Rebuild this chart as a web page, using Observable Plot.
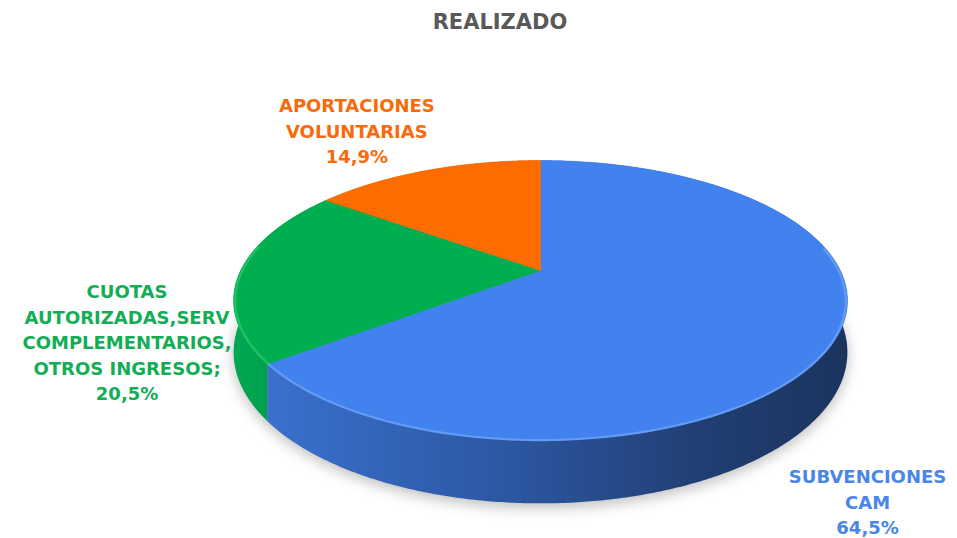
<!DOCTYPE html>
<html><head><meta charset="utf-8">
<script src="https://cdn.jsdelivr.net/npm/d3@7"></script>
<script src="https://cdn.jsdelivr.net/npm/@observablehq/plot@0.6"></script>
<style>body{margin:0;background:#fff} #chart svg{display:block}</style>
</head><body><div id="chart"></div>
<script>
const title = "REALIZADO";
const categories = ["SUBVENCIONES CAM", "CUOTAS AUTORIZADAS,SERVICIOS COMPLEMENTARIOS, OTROS INGRESOS", "APORTACIONES VOLUNTARIAS"];
const values = [64.5, 20.5, 14.9];
const labelNames = [["SUBVENCIONES", "CAM"], ["CUOTAS", "AUTORIZADAS,SERV", "COMPLEMENTARIOS,", "OTROS INGRESOS;"], ["APORTACIONES", "VOLUNTARIAS"]];
const topColors = ["#4182ee", "#00ad4f", "#fc6c00"];
const labelColors = ["#4a86e8", "#12ad55", "#fa6a0a"];
const rimColors = ["#6ea3f7", "#2cc86c", "#ff8a33"];

// layout / style settings
const W = 957, H = 538;
const D = 4.667, DEPTH = 0.37;         // perspective distance, pie thickness
const CX = 540, CY = 270, SX = 1399, SY = 623.3;
const labelOffsets = [[30, 165], [-113, 69], [-70, -41]];

function proj(a, r, h = 0) {
  const u = r * Math.sin(a), v = -r * Math.cos(a), k = 1 / (D - v);
  return {X: u * k, Y: (v + h) * k};
}
function arc(a0, a1, r, h) {
  const n = Math.max(2, Math.ceil(Math.abs(a1 - a0) / (Math.PI / 360)));
  return d3.range(n + 1).map(j => proj(a0 + (a1 - a0) * j / n, r, h));
}

const arcs = d3.pie().sort(null).value(d => d)(values);
const fmt = v => d3.format(".1f")(v).replace(".", ",") + "%";

const topPts = arcs.flatMap((s, i) => [proj(0, 0), ...arc(s.startAngle, s.endAngle, 1, 0), proj(0, 0)].map(p => ({...p, cat: categories[i]})));
const wallPts = arcs.map((s, i) => [...arc(s.startAngle, s.endAngle, 1, 0), ...arc(s.endAngle, s.startAngle, 1, DEPTH)]);
const rimPts = arcs.map(s => {
  const a0 = Math.max(s.startAngle, 1.4), a1 = Math.min(s.endAngle, 4.9);
  return a1 > a0 ? arc(a0, a1, 0.995, 0.004) : [];
});
const shadowPts = arc(0, 2 * Math.PI, 1.0, DEPTH + 0.025);

const labels = arcs.map((s, i) => {
  const p = proj((s.startAngle + s.endAngle) / 2, 1, 0);
  return {...p, text: [...labelNames[i], fmt(values[i])].join("\n"), cat: categories[i]};
});

const marks = [
  Plot.line(shadowPts, {x: "X", y: "Y", fill: "#000", fillOpacity: 0.26, stroke: "none", curve: "linear"}),
  ...labels.map((l, i) => Plot.text([l], {x: "X", y: "Y", text: "text", fill: labelColors[i], dx: labelOffsets[i][0], dy: labelOffsets[i][1], fontSize: 18, fontWeight: "bold", lineHeight: 1.42, lineAnchor: "middle", textAnchor: "middle"})),
  ...wallPts.map((w, i) => Plot.line(w, {x: "X", y: "Y", fill: `url(#wall${i})`, stroke: "none"})),
  Plot.line(topPts, {x: "X", y: "Y", z: "cat", fill: "cat", stroke: "cat", strokeWidth: 0.6}),
  ...rimPts.map((r, i) => Plot.line(r, {x: "X", y: "Y", stroke: rimColors[i], strokeWidth: 2.2, strokeOpacity: 0.75})),
  Plot.text([title], {frameAnchor: "top", dx: 21, dy: 14, fill: "#595959", fontSize: 21, fontWeight: "bold"})
];

const svg = Plot.plot({
  width: W, height: H, margin: 0,
  style: {fontFamily: "'DejaVu Sans', sans-serif", background: "#fff", overflow: "visible"},
  x: {domain: [-CX / SX, (W - CX) / SX], range: [0, W], axis: null},
  y: {domain: [-CY / SY, (H - CY) / SY], range: [0, H], axis: null},
  color: {domain: categories, range: topColors},
  marks
});

const ns = "http://www.w3.org/2000/svg";
const defs = document.createElementNS(ns, "defs");
defs.innerHTML = `
<linearGradient id="wall0" x1="0" x2="1" y1="0" y2="0">
  <stop offset="0" stop-color="#3a70cf"/><stop offset="0.22" stop-color="#3363b6"/>
  <stop offset="0.47" stop-color="#2a539b"/><stop offset="0.74" stop-color="#213f74"/>
  <stop offset="1" stop-color="#1b345e"/></linearGradient>
<linearGradient id="wall1" x1="0" x2="1" y1="0" y2="0">
  <stop offset="0" stop-color="#00a852"/><stop offset="1" stop-color="#009443"/></linearGradient>
<linearGradient id="wall2" x1="0" x2="1" y1="0" y2="0">
  <stop offset="0" stop-color="#d95c00"/><stop offset="1" stop-color="#b84e00"/></linearGradient>
<filter id="blur" x="-20%" y="-20%" width="140%" height="140%"><feGaussianBlur stdDeviation="7"/></filter>`;
svg.insertBefore(defs, svg.firstChild);
const shadowG = svg.querySelector('g[aria-label="line"]');
if (shadowG) shadowG.setAttribute("filter", "url(#blur)");
document.getElementById("chart").appendChild(svg);
</script>
</body></html>
